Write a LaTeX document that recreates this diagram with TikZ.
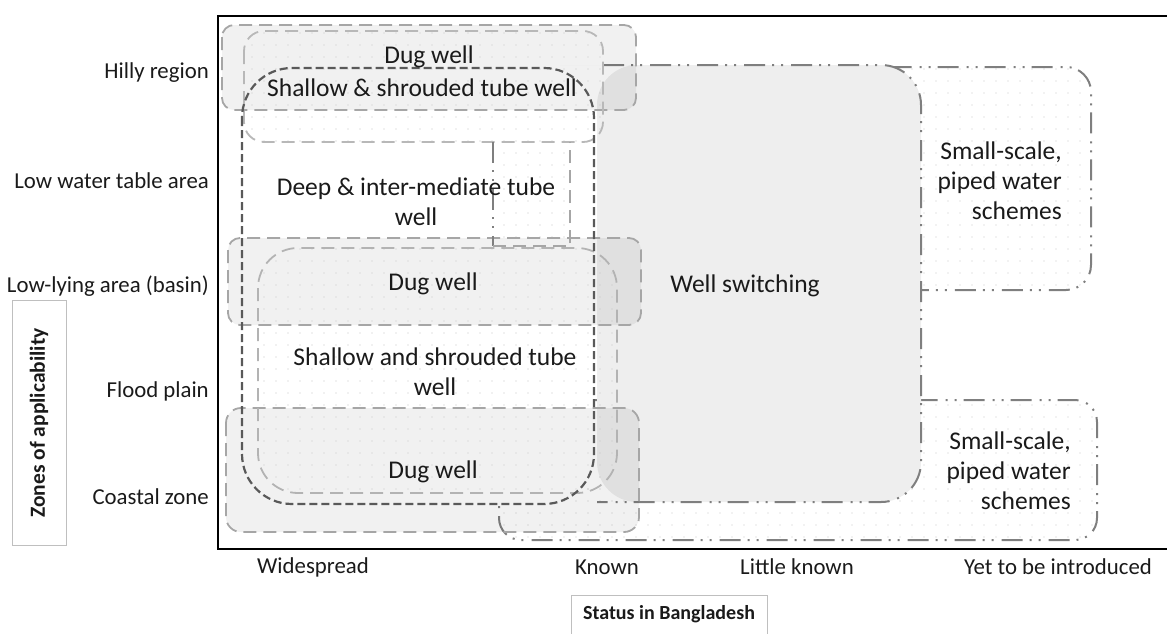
\documentclass[tikz,border=0pt]{standalone}
\usepackage{fontspec}
\setmainfont{Carlito}
\usetikzlibrary{patterns.meta}
\definecolor{lgline}{HTML}{A6A6A6}
\definecolor{dkline}{HTML}{595959}
\definecolor{ddline}{HTML}{7F7F7F}
\definecolor{wsgray}{HTML}{EEEEEE}
\definecolor{txt}{HTML}{1A1A1A}
\tikzset{
  lbl/.style={font=\fontsize{25.5}{30}\selectfont, text=txt, inner sep=0pt, align=center},
  axlbl/.style={font=\fontsize{22.8}{27}\selectfont, text=txt, inner sep=0pt},
  axtitle/.style={font=\bfseries\fontsize{21.5}{25}\selectfont, text=txt, inner sep=0pt},
  lightdash/.style={draw=lgline, line width=1.8pt, dash pattern=on 13pt off 7pt},
  darkdash/.style={draw=dkline, line width=2.2pt, dash pattern=on 8pt off 4pt},
  dashdots/.style={draw=ddline, line width=2pt, dash pattern=on 21pt off 7pt on 2pt off 7pt on 2pt off 8pt},
  grayfill/.style={fill=black, fill opacity=0.055},
  dotsfill/.style={pattern={Dots[distance=12pt, radius=0.6pt]}, pattern color=gray!45},
}
\begin{document}
\begin{tikzpicture}[x=1pt,y=-1pt]
\useasboundingbox (0,0) rectangle (1167,633);
\begin{scope}
\clip (0,0) rectangle (1167,633);
% small-scale boxes (drawn first, partly hidden)
\path[dotsfill, rounded corners=25pt] (860,67) rectangle (1091,290);
\draw[dashdots, rounded corners=25pt] (860,67) rectangle (1091,290);
\path[dotsfill, rounded corners=22pt] (499,400) rectangle (1097,540);
\draw[dashdots, rounded corners=22pt] (499,400) rectangle (1097,540);
% well switching
\path[fill=wsgray, rounded corners=40pt] (600,65) -- (921,65) -- (921,502) -- (597,502) -- (597,65) -- cycle;
\draw[dashdots, rounded corners=40pt] (603,65) -- (921,65) -- (921,502) -- (597,502);
% white base of the tall dark dashed region
\path[fill=white, rounded corners=50pt] (242,68) rectangle (594,504);
% gray dug-well boxes
\path[grayfill, rounded corners=12pt] (222,25) rectangle (636,110);
\path[grayfill, rounded corners=12pt] (228,238) rectangle (641,325);
\path[grayfill, rounded corners=15pt] (226,408) rectangle (639,532);
% dotted light rectangles
\path[dotsfill, rounded corners=20pt] (244,31) rectangle (603,142);
\path[dotsfill, rounded corners=40pt] (258,248) rectangle (617,493);
\path[dotsfill] (493,142) rectangle (570,246);
% outlines
\draw[lightdash, rounded corners=12pt] (222,25) rectangle (636,110);
\draw[lightdash, rounded corners=12pt] (228,238) rectangle (641,325);
\draw[lightdash, rounded corners=15pt] (226,408) rectangle (639,532);
\draw[lightdash, draw=lgline!80, rounded corners=20pt] (244,31) rectangle (603,142);
\draw[lightdash, draw=lgline!85, rounded corners=40pt] (258,248) rectangle (617,493);
\draw[dashdots] (493,142) -- (493,246);
\draw[lightdash] (493,246) -- (570,246) -- (570,142);
\draw[darkdash, rounded corners=50pt] (242,68) rectangle (594,504);
\end{scope}
% axes frame
\draw[line width=1.6pt] (1175,16) -- (218,16) -- (218,549) -- (1175,549);
% labels inside
\node[lbl] (dug1) at (429,57) {Dug well};
\node[lbl] (sst1) at (422,88) {Shallow \& shrouded tube well};
\node[lbl] (deep) at (416,202) {Deep \& inter-mediate tube\\well};
\node[lbl] (dug2) at (433,284) {Dug well};
\node[lbl] (sst2) at (435,372) {Shallow and shrouded tube\\well};
\node[lbl] (dug3) at (433,472) {Dug well};
\node[lbl] (ws) at (745,286) {Well switching};
\node[lbl, align=right, anchor=east] (ssp1) at (1062,181) {Small-scale,\\piped water\\schemes};
\node[lbl, align=right, anchor=east] (ssp2) at (1071,471) {Small-scale,\\piped water\\schemes};
% zone labels
\node[axlbl, anchor=east] (z1) at (209,73) {Hilly region};
\node[axlbl, anchor=east] (z2) at (209,181) {Low water table area};
\node[axlbl, anchor=east] (z3) at (209,286) {Low-lying area (basin)};
\node[axlbl, anchor=east] (z4) at (209,391) {Flood plain};
\node[axlbl, anchor=east] (z5) at (209,497) {Coastal zone};
% status labels
\node[axlbl] (s1) at (313,567) {Widespread};
\node[axlbl] (s2) at (607,567) {Known};
\node[axlbl] (s3) at (797,567) {Little known};
\node[axlbl] (s4) at (1058,567) {Yet to be introduced};
% axis titles
\draw[draw=gray!50, line width=0.8pt] (12,300) rectangle (66,545);
\node[axtitle, rotate=90] (zt) at (39,423) {Zones of applicability};
\draw[draw=gray!50, line width=0.8pt] (571,595) rectangle (767,640);
\node[axtitle, font=\bfseries\fontsize{20}{24}\selectfont] (st) at (669,614) {Status in Bangladesh};
\end{tikzpicture}
\end{document}
